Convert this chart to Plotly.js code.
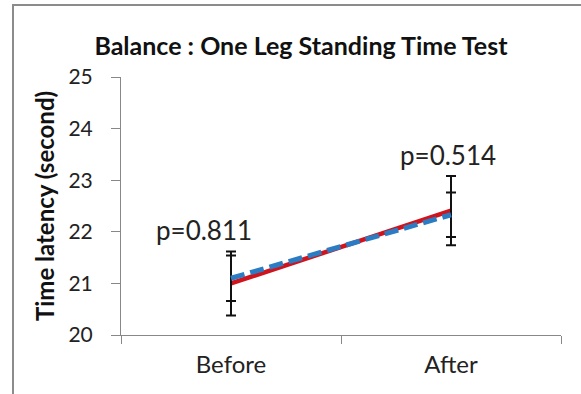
<!DOCTYPE html>
<html>
<head>
<meta charset="utf-8">
<script src="https://cdn.plot.ly/plotly-3.0.1.min.js"></script>
<style>
  body { margin: 0; background: #fff; }
  #wrap { position: relative; width: 581px; height: 394px; }
  #plot { width: 581px; height: 394px; }
  #frame { position: absolute; left: 12px; top: 4px; width: 572px; height: 392px;
           border: 2px solid #8c8c8c; box-sizing: border-box; pointer-events: none; }
</style>
</head>
<body>
<div id="wrap"><div id="plot"></div><div id="frame"></div></div>
<script>
const categories = ["Before", "After"];
const seriesA = [21.0, 22.41];      // red solid
const errA = [0.62, 0.67];
const seriesB = [21.1, 22.33];      // blue dashed
const errB = [0.44, 0.43];
const pLabels = ["p=0.811", "p=0.514"];
const pLabelY = [22.03, 23.49];
const pLabelShift = [-27, -3];
const yTicks = [20, 21, 22, 23, 24, 25];

const FONT = "Lato, 'Open Sans', sans-serif";

const traces = [
  {
    x: categories, y: seriesA, type: 'scatter', mode: 'lines',
    line: { color: '#d0141e', width: 4.5 },
    error_y: { type: 'data', array: errA, visible: true, color: '#111', thickness: 2, width: 5 },
    showlegend: false, hoverinfo: 'skip'
  },
  {
    x: categories, y: seriesB, type: 'scatter', mode: 'lines',
    line: { color: '#2b7cc2', width: 5, dash: '14px,6px' },
    error_y: { type: 'data', array: errB, visible: true, color: '#111', thickness: 2, width: 5 },
    showlegend: false, hoverinfo: 'skip'
  }
];

const annotations = categories.map((c, i) => ({
  x: c, y: pLabelY[i], xref: 'x', yref: 'y', text: pLabels[i], showarrow: false,
  xshift: pLabelShift[i],
  font: { family: FONT, size: 26, color: '#222' }, yanchor: 'middle'
}));

const layout = {
  width: 581, height: 394,
  margin: { l: 121, r: 20, t: 77, b: 59 },
  paper_bgcolor: '#fff', plot_bgcolor: '#fff',
  title: { text: '<b>Balance : One Leg Standing Time Test</b>', x: 0.518, xanchor: 'center',
           y: 0.883, yanchor: 'middle', font: { family: FONT, size: 25, color: '#111' } },
  xaxis: {
    type: 'category', range: [-0.5, 1.5], tickson: 'boundaries',
    ticks: 'outside', ticklen: 8, tickcolor: '#888', tickwidth: 1,
    showline: true, linecolor: '#888', linewidth: 1, showgrid: false, zeroline: false,
    ticklabelstandoff: 8,
    tickfont: { family: FONT, size: 24, color: '#222' }
  },
  yaxis: {
    range: [20, 25], tickvals: yTicks, ticktext: yTicks.map(String),
    ticks: 'outside', ticklen: 9, tickcolor: '#888', tickwidth: 1,
    showline: true, linecolor: '#888', linewidth: 1, showgrid: false, zeroline: false,
    ticklabelstandoff: 14,
    tickfont: { family: FONT, size: 21, color: '#222' },
    title: { text: '<b>Time latency (second)</b>', standoff: 7,
             font: { family: FONT, size: 24, color: '#111' } }
  },
  annotations: annotations
};

Plotly.newPlot('plot', traces, layout, { staticPlot: true, displayModeBar: false });
</script>
</body>
</html>
